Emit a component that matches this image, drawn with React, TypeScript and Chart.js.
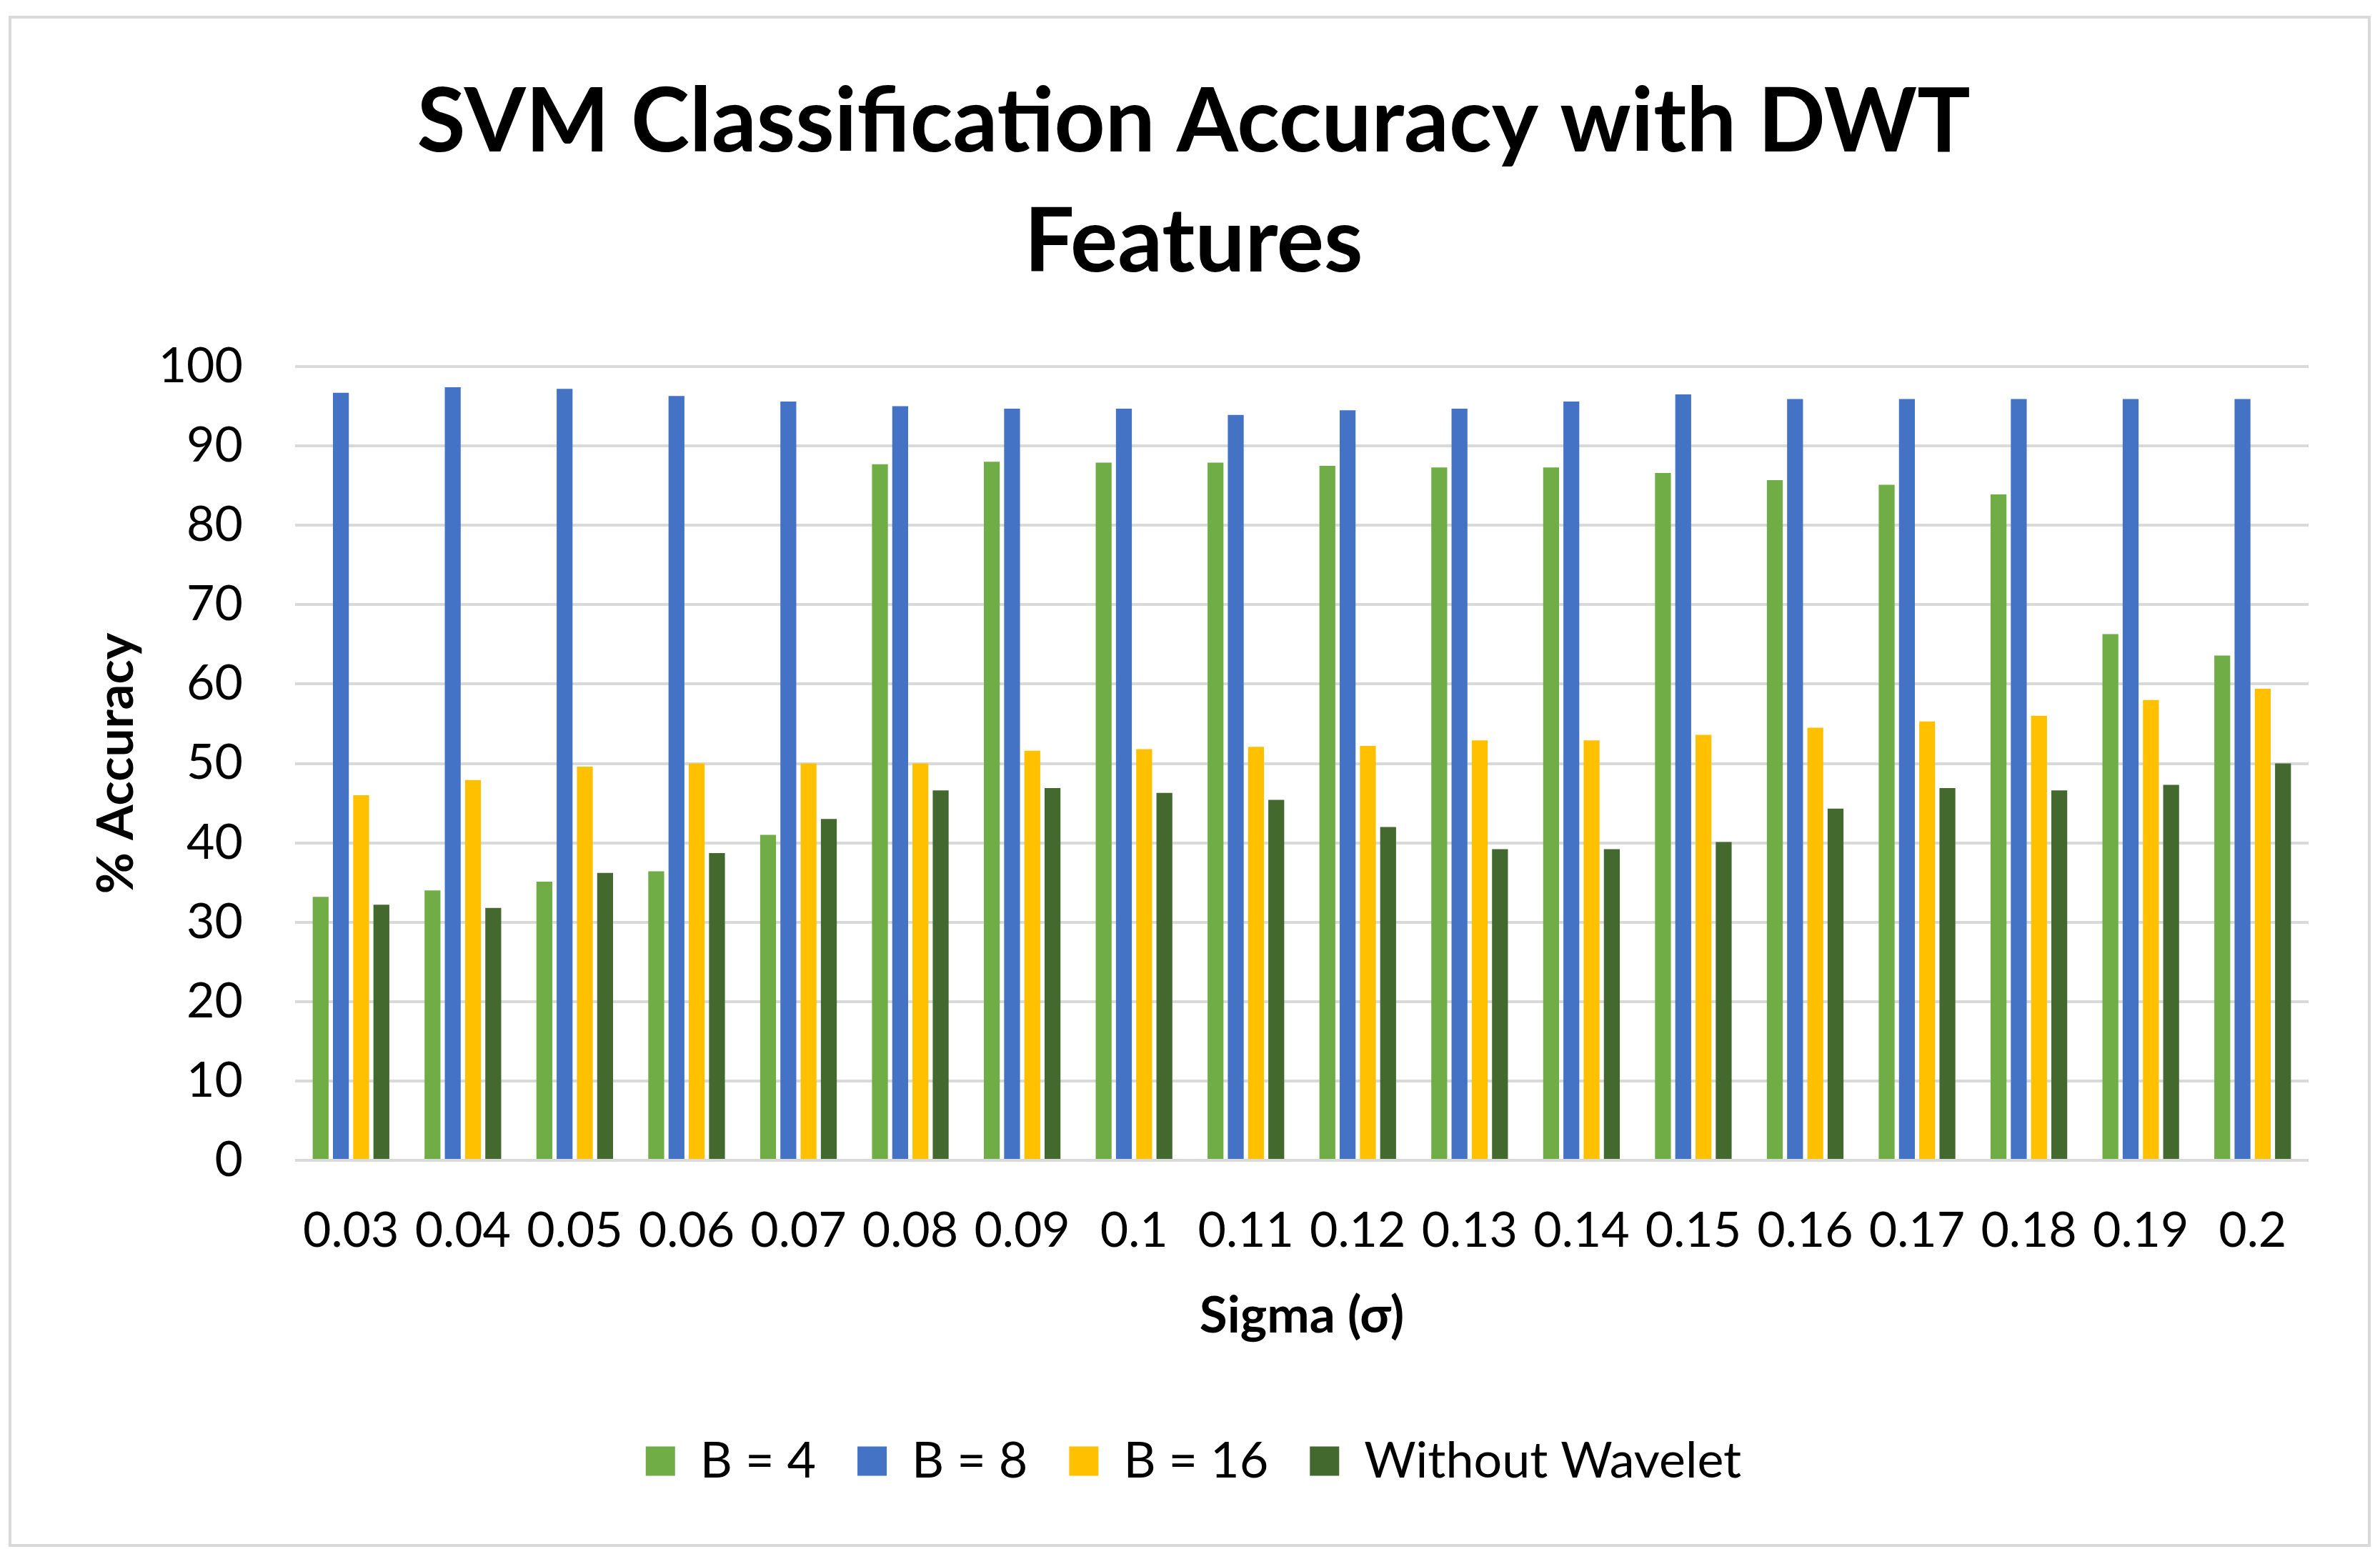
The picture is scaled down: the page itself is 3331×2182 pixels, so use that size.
import React, { useEffect, useRef } from "react";
import { Chart, registerables } from "chart.js";

Chart.register(...registerables);

const categories = ["0.03", "0.04", "0.05", "0.06", "0.07", "0.08", "0.09", "0.1", "0.11", "0.12", "0.13", "0.14", "0.15", "0.16", "0.17", "0.18", "0.19", "0.2"];
const seriesNames = ["B = 4", "B = 8", "B = 16", "Without Wavelet"];
const b4 = [33.2, 34.0, 35.1, 36.4, 41.0, 87.7, 88.0, 87.9, 87.9, 87.5, 87.3, 87.3, 86.6, 85.7, 85.1, 83.9, 66.3, 63.6];
const b8 = [96.7, 97.4, 97.2, 96.3, 95.6, 95.0, 94.7, 94.7, 93.9, 94.5, 94.7, 95.6, 96.5, 95.9, 95.9, 95.9, 95.9, 95.9];
const b16 = [46.0, 47.9, 49.6, 50.0, 50.0, 50.0, 51.6, 51.8, 52.1, 52.2, 52.9, 52.9, 53.6, 54.5, 55.3, 56.0, 58.0, 59.4];
const noWavelet = [32.2, 31.8, 36.2, 38.7, 43.0, 46.6, 46.9, 46.3, 45.4, 42.0, 39.2, 39.2, 40.1, 44.3, 46.9, 46.6, 47.3, 50.0];
const seriesColors = ["#70AD47", "#4472C4", "#FFC000", "#44692F"];
const titleLines = ["SVM Classification Accuracy with DWT", "Features"];
const xTitle = "Sigma (σ)";
const yTitle = "% Accuracy";

const W = 3331;
const H = 2182;

export default function App() {
  const ref = useRef<HTMLCanvasElement | null>(null);

  useEffect(() => {
    if (!ref.current) return;
    const values = [b4, b8, b16, noWavelet];
    const chart = new Chart(ref.current, {
      type: "bar",
      data: {
        labels: categories,
        datasets: seriesNames.map((name, i) => ({
          label: name,
          data: values[i],
          backgroundColor: seriesColors[i],
          borderWidth: 0,
          categoryPercentage: 0.724,
          barPercentage: 0.785,
        })),
      },
      options: {
        animation: false,
        responsive: false,
        devicePixelRatio: 1,
        font: { family: "Lato" },
        layout: { padding: { left: 110, right: 100, top: 40, bottom: 92 } },
        plugins: {
          tooltip: { enabled: false },
          title: {
            display: true,
            text: titleLines,
            color: "#000",
            font: { family: "Lato", size: 124, weight: "bold", lineHeight: 1.355 },
            padding: { top: 48, bottom: 89 },
          },
          legend: {
            display: true,
            position: "bottom",
            labels: {
              color: "#000",
              font: { family: "Lato", size: 70 },
              boxWidth: 41,
              boxHeight: 41,
              padding: 58,
            },
          },
        },
        scales: {
          x: {
            grid: { display: false, drawTicks: false },
            border: { display: false },
            ticks: {
              color: "#000",
              font: { family: "Lato", size: 68, lineHeight: 1.2 },
              padding: 58,
              maxRotation: 0,
              autoSkip: false,
            },
            title: {
              display: true,
              text: xTitle,
              color: "#000",
              font: { family: "Lato", size: 71, weight: "bold", lineHeight: 1.1 },
              padding: { top: 0, bottom: 71 },
            },
            afterFit: (s: any) => {
              s.height = 328;
            },
          },
          y: {
            min: 0,
            max: 100,
            grid: { color: "#D9D9D9", lineWidth: 4, drawTicks: false },
            border: { display: false },
            ticks: {
              stepSize: 10,
              color: "#000",
              font: { family: "Lato", size: 68, lineHeight: 1.2 },
              padding: 73,
            },
            title: {
              display: true,
              text: yTitle,
              color: "#000",
              font: { family: "Lato", size: 71, weight: "bold", lineHeight: 1.1 },
              padding: { top: 14, bottom: 0 },
            },
            afterFit: (s: any) => {
              s.width = 303;
            },
          },
        },
      },
    });
    return () => chart.destroy();
  }, []);

  return (
    <div style={{ position: "absolute", left: 0, top: 0, width: W, height: H, background: "#fff" }}>
      <div
        style={{
          position: "absolute",
          left: 12,
          top: 22,
          width: 3306,
          height: 2143,
          border: "4px solid #D9D9D9",
          boxSizing: "border-box",
        }}
      />
      <canvas ref={ref} width={W} height={H} style={{ position: "absolute", left: 0, top: 0, width: W, height: H }} />
    </div>
  );
}
